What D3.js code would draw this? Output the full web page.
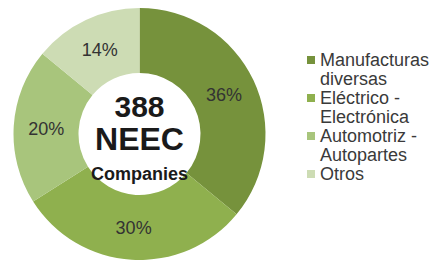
<!DOCTYPE html>
<html>
<head>
<meta charset="utf-8">
<script src="https://cdn.jsdelivr.net/npm/d3@7"></script>
<style>
	body { margin: 0; background: #fff; }
	svg { display: block; font-family: "Liberation Sans", Arial, sans-serif; }
	.pct { font-size: 18px; fill: #333; }
	.legend text { font-size: 18px; fill: #3a3a3a; }
	.center { fill: #1a1a1a; font-weight: bold; }
</style>
</head>
<body>
<div id="graphic"></div>
<script>
// Data
var CATEGORIES = ['Manufacturas diversas', 'Eléctrico - Electrónica', 'Automotriz - Autopartes', 'Otros'];
var LEGEND_LINES = [['Manufacturas', 'diversas'], ['Eléctrico -', 'Electrónica'], ['Automotriz -', 'Autopartes'], ['Otros']];
var SHARES = [36, 30, 20, 14];
var COLORS = ['#76923c', '#8fb04e', '#a8c57c', '#cddcb4'];
var CENTER_LINES = ['388', 'NEEC', 'Companies'];

var WIDTH = 439;
var HEIGHT = 261;

function render() {
	var svg = d3.select('#graphic').append('svg')
		.attr('width', WIDTH)
		.attr('height', HEIGHT);

	var cx = 139.5, cy = 134;
	var outer = 126, inner = 61;

	var data = CATEGORIES.map(function(c, i) {
		return { name: c, value: SHARES[i], color: COLORS[i] };
	});

	var pie = d3.pie()
		.sort(null)
		.value(function(d) { return d.value; });

	var arc = d3.arc()
		.innerRadius(inner)
		.outerRadius(outer);

	var g = svg.append('g')
		.attr('transform', 'translate(' + cx + ',' + cy + ')');

	var arcs = pie(data);

	g.selectAll('path')
		.data(arcs)
		.enter().append('path')
		.attr('d', arc)
		.attr('fill', function(d) { return d.data.color; });

	g.selectAll('text.pct')
		.data(arcs)
		.enter().append('text')
		.attr('class', 'pct')
		.attr('transform', function(d) { return 'translate(' + arc.centroid(d) + ')'; })
		.attr('text-anchor', 'middle')
		.attr('dy', '0.36em')
		.text(function(d) { return d.data.value + '%'; });

	// center label
	var center = g.append('g').attr('class', 'center');
	center.append('text')
		.attr('text-anchor', 'middle')
		.attr('y', -17)
		.style('font-size', '30px')
		.text(CENTER_LINES[0]);
	center.append('text')
		.attr('text-anchor', 'middle')
		.attr('y', 16)
		.style('font-size', '32px')
		.text(CENTER_LINES[1]);
	center.append('text')
		.attr('text-anchor', 'middle')
		.attr('y', 46)
		.style('font-size', '18px')
		.text(CENTER_LINES[2]);

	// legend
	var legend = svg.append('g')
		.attr('class', 'legend')
		.attr('transform', 'translate(307,60)');

	var lineH = 19;
	var row = 0;
	LEGEND_LINES.forEach(function(lines, i) {
		var y = row * lineH;
		legend.append('rect')
			.attr('x', 0)
			.attr('y', y - 4)
			.attr('width', 8)
			.attr('height', 8)
			.attr('fill', COLORS[i]);
		lines.forEach(function(t, j) {
			legend.append('text')
				.attr('x', 13)
				.attr('y', y + j * lineH)
				.attr('dy', '0.36em')
				.text(t);
		});
		row += lines.length;
	});
}

document.addEventListener('DOMContentLoaded', render);
</script>
</body>
</html>
